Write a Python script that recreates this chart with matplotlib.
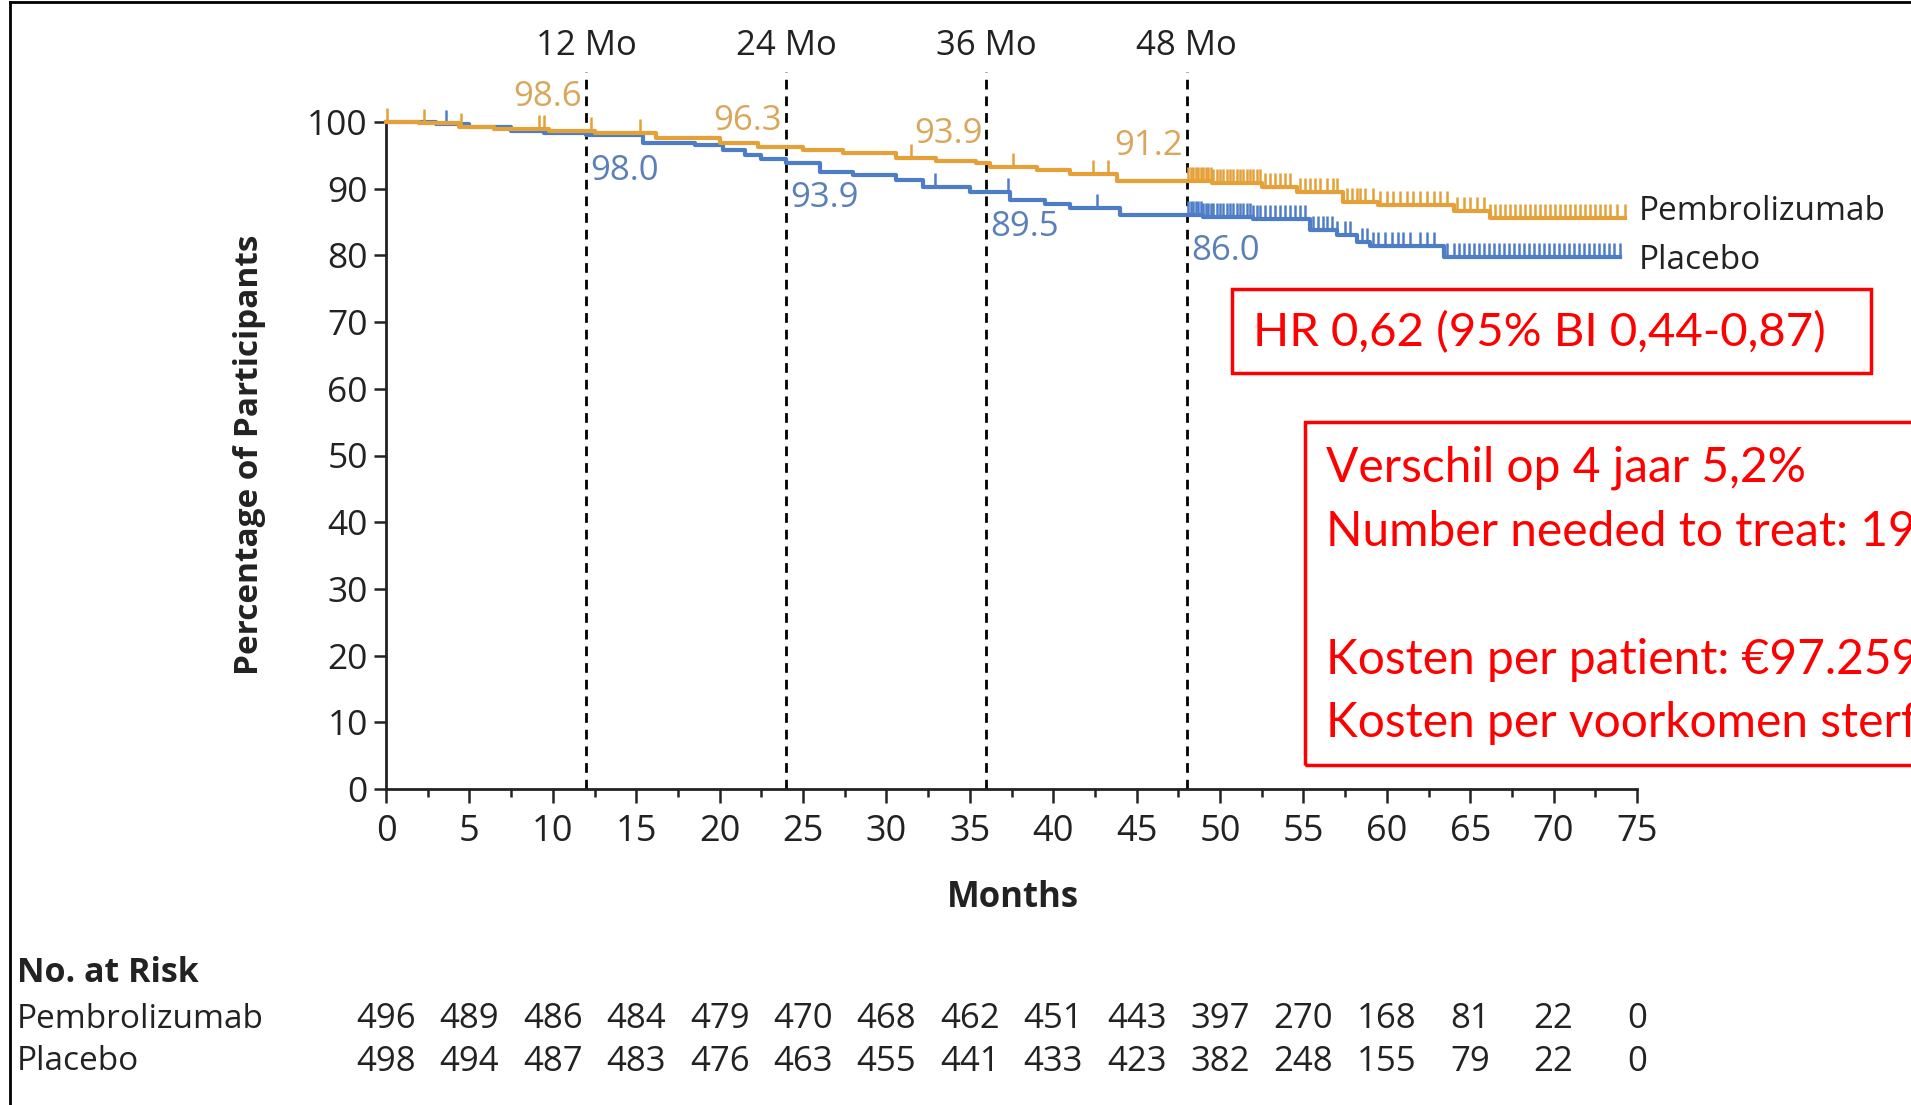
import numpy as np
import matplotlib.pyplot as plt
from matplotlib.lines import Line2D
from matplotlib.patches import Rectangle
from matplotlib.transforms import blended_transform_factory

# ---- data ----
pembro_t = [0, 2.0, 4.4, 6.5, 9.8, 12.5, 16.2, 20.0, 22.3, 25.0, 27.4, 30.6, 33.0, 35.4,
            36.2, 39.0, 41.0, 43.8, 49.5, 52.5, 54.6, 57.4, 59.5, 64.0, 66.2, 74.3]
pembro_s = [100, 99.8, 99.3, 99.0, 98.6, 98.3, 97.6, 96.9, 96.3, 95.8, 95.3, 94.6, 94.2, 93.9,
            93.3, 92.8, 92.2, 91.2, 90.8, 90.3, 89.5, 88.0, 87.5, 86.6, 85.6, 85.6]

placebo_t = [0, 3.0, 5.0, 7.5, 9.5, 12.0, 15.4, 18.5, 20.2, 21.5, 22.5, 24.0, 26.0, 28.0, 30.6,
             32.2, 35.0, 37.4, 39.5, 41.0, 44.0, 49.0, 52.0, 55.4, 57.0, 58.2, 59.0, 63.4, 74.0]
placebo_s = [100, 99.7, 99.2, 98.6, 98.3, 98.0, 96.9, 96.6, 95.8, 95.0, 94.5, 93.9, 92.5, 92.0, 91.3,
             90.3, 89.5, 88.3, 87.7, 87.1, 86.0, 85.8, 85.4, 83.8, 83.1, 82.0, 81.4, 79.8, 79.8]

pembro_cens = [0.05, 2.3, 4.5, 9.2, 9.5, 12.3, 15.2, 31.5, 37.6, 42.4, 43.3,
               48.1, 48.25, 48.4, 48.55, 48.7, 48.85, 49.0, 49.15, 49.3, 49.45, 49.6, 49.8, 50.0,
               50.2, 50.4, 50.6, 50.8, 51.0, 51.2, 51.4, 51.6, 51.8, 52.0, 52.2, 52.4, 52.7, 53.0,
               53.3, 53.6, 53.9, 54.2, 54.8, 55.1, 55.4, 55.7, 56.0, 56.4, 56.8, 57.0, 57.6, 57.9,
               58.2, 58.4, 58.7, 59.2, 59.6, 60.0, 60.4, 60.8, 61.2, 61.6, 62.0, 62.4, 62.8, 63.2,
               63.6, 64.2, 64.6, 65.0, 65.4, 65.8, 66.2, 66.5, 66.8, 67.1, 67.4, 67.7, 68.0, 68.3,
               68.6, 68.9, 69.2, 69.5, 69.8, 70.1, 70.4, 70.7, 71.0, 71.3, 71.6, 71.9, 72.2, 72.5,
               72.8, 73.1, 73.4, 73.8, 74.3]
placebo_cens = [3.6, 32.9, 37.3, 42.6,
                48.1, 48.25, 48.4, 48.55, 48.7, 48.85, 49.0, 49.15, 49.3, 49.45, 49.6, 49.8, 50.0,
                50.2, 50.4, 50.6, 50.8, 51.0, 51.2, 51.4, 51.6, 51.8, 52.0, 52.2, 52.4, 52.7, 53.0,
                53.3, 53.6, 53.9, 54.2, 54.5, 54.8, 55.1, 55.6, 55.9, 56.2, 56.4, 56.7, 57.0, 57.5,
                57.8, 58.5, 58.8, 59.2, 59.5, 59.9, 60.3, 60.7, 61.0, 61.4, 62.0, 62.4, 62.8, 63.6,
                64.0, 64.3, 64.6, 64.9, 65.2, 65.5, 65.8, 66.1, 66.4, 66.7, 67.0, 67.3, 67.6, 67.9,
                68.2, 68.5, 68.8, 69.1, 69.4, 69.7, 70.0, 70.3, 70.6, 70.9, 71.2, 71.5, 71.8, 72.1,
                72.4, 72.7, 73.0, 73.3, 73.6, 74.0]

landmark_months = [12, 24, 36, 48]
landmark_labels = ["12 Mo", "24 Mo", "36 Mo", "48 Mo"]
pembro_landmark = [98.6, 96.3, 93.9, 91.2]
placebo_landmark = [98.0, 93.9, 89.5, 86.0]

risk_months = [0, 5, 10, 15, 20, 25, 30, 35, 40, 45, 50, 55, 60, 65, 70, 75]
pembro_risk = [496, 489, 486, 484, 479, 470, 468, 462, 451, 443, 397, 270, 168, 81, 22, 0]
placebo_risk = [498, 494, 487, 483, 476, 463, 455, 441, 433, 423, 382, 248, 155, 79, 22, 0]

hr_text = "HR 0,62 (95% BI 0,44-0,87)"
box_lines = ["Verschil op 4 jaar 5,2%", "Number needed to treat: 19", "",
             "Kosten per patient: €97.259", "Kosten per voorkomen sterfgeval"]

# ---- style ----
W, H = 1911, 1105
ORANGE = "#E5A037"
ORANGE_TXT = "#D9A75C"
BLUE = "#4D7DC6"
BLUE_TXT = "#5B7FBA"
RED = "#FF0000"
INK = "#222222"
RED_FONT = ["Lato", "DejaVu Sans"]
plt.rcParams["font.family"] = ["Open Sans", "DejaVu Sans"]

# vertical offsets of the landmark value labels
pembro_label_dy = [5.2, 3.8, 4.3, 5.2]
placebo_label_dy = -5.3


def fx(x):
    return x / W


def fy(y):
    return 1 - y / H


fig = plt.figure(figsize=(W / 100, H / 100), dpi=100)
ax = fig.add_axes([fx(386), fy(789), (1637 - 386) / W, (789 - 122) / H])
ax.set_xlim(0, 75)
ax.set_ylim(0, 100)
for s in ["top", "right"]:
    ax.spines[s].set_visible(False)
for s in ["left", "bottom"]:
    ax.spines[s].set_linewidth(2)
    ax.spines[s].set_color(INK)

ax.set_yticks(range(0, 101, 10))
ax.set_xticks(risk_months)
ax.set_xticks(np.array(risk_months[:-1]) + 2.5, minor=True)
ax.tick_params(axis="y", length=9, width=1.8, labelsize=25.5, pad=4, color=INK, labelcolor=INK)
ax.tick_params(axis="x", which="major", length=10, width=1.8, labelsize=26, pad=8, color=INK,
               labelcolor=INK)
ax.tick_params(axis="x", which="minor", length=6, width=1.8, color=INK)

# dashed landmark lines
for m, lab in zip(landmark_months, landmark_labels):
    ax.plot([m, m], [0, 107.5], ls=(0, (3.5, 2.5)), color="black", lw=2, clip_on=False, zorder=1)
    ax.text(m, 111.4, lab, ha="center", va="center", fontsize=25, color=INK)


def draw_curve(t, s, cens, color):
    ax.step(t, s, where="post", color=color, lw=3.0, clip_on=False, zorder=3)
    t = np.array(t)
    s = np.array(s)
    idx = np.searchsorted(t, cens, side="right") - 1
    ys = s[np.clip(idx, 0, len(s) - 1)]
    ax.vlines(cens, ys, ys + 2.1, color=color, lw=1.8, clip_on=False, zorder=3)


draw_curve(placebo_t, placebo_s, placebo_cens, BLUE)
draw_curve(pembro_t, pembro_s, pembro_cens, ORANGE)

for m, vp, vb, dy in zip(landmark_months, pembro_landmark, placebo_landmark, pembro_label_dy):
    ax.text(m - 0.25, vp + dy, f"{vp:.1f}", ha="right", va="center", fontsize=25, color=ORANGE_TXT)
    ax.text(m + 0.25, vb + placebo_label_dy, f"{vb:.1f}", ha="left", va="center", fontsize=25,
            color=BLUE_TXT)

# series labels
fig.text(fx(1639), fy(212), "Pembrolizumab", fontsize=24, va="center", ha="left", color=INK)
fig.text(fx(1639), fy(260), "Placebo", fontsize=24, va="center", ha="left", color=INK)

# axis titles
fig.text(fx(250), fy(455), "Percentage of Participants", rotation=90, fontsize=24,
         fontweight="bold", ha="center", va="center", color=INK)
fig.text(fx(1013), fy(898), "Months", fontsize=25, fontweight="bold", ha="center", va="center",
         color=INK)

# risk table
tr = blended_transform_factory(ax.transData, fig.transFigure)
fig.text(fx(17), fy(973), "No. at Risk", fontsize=24.5, fontweight="bold", va="center", ha="left",
         color=INK)
fig.text(fx(17), fy(1019), "Pembrolizumab", fontsize=24, va="center", ha="left", color=INK)
fig.text(fx(17), fy(1062), "Placebo", fontsize=24, va="center", ha="left", color=INK)
for m, a, b in zip(risk_months, pembro_risk, placebo_risk):
    ax.text(m, fy(1019), str(a), transform=tr, ha="center", va="center", fontsize=25, color=INK)
    ax.text(m, fy(1062), str(b), transform=tr, ha="center", va="center", fontsize=25, color=INK)

# red boxes
fig.add_artist(Rectangle((fx(1232), fy(373)), fx(1871) - fx(1232), fy(289) - fy(373),
                         fill=False, edgecolor=RED, lw=2.5, transform=fig.transFigure))
fig.text(fx(1253), fy(333), hr_text, fontsize=34, color=RED, va="center", ha="left",
         family=RED_FONT)
fig.add_artist(Rectangle((fx(1305), fy(765)), fx(1930) - fx(1305), fy(422) - fy(765),
                         fill=False, edgecolor=RED, lw=2.5, transform=fig.transFigure))
line_y = [468, 532, 596, 660, 723]
for y, txt in zip(line_y, box_lines):
    if txt:
        fig.text(fx(1326), fy(y), txt, fontsize=34.5, color=RED, va="center", ha="left",
                 family=RED_FONT)

# frame lines of the slide
fig.add_artist(Line2D([fx(10), fx(10)], [0, fy(2)], color="black", lw=2))
fig.add_artist(Line2D([fx(10), 1], [fy(2), fy(2)], color="black", lw=2))

fig.savefig("out.png", dpi=100)
